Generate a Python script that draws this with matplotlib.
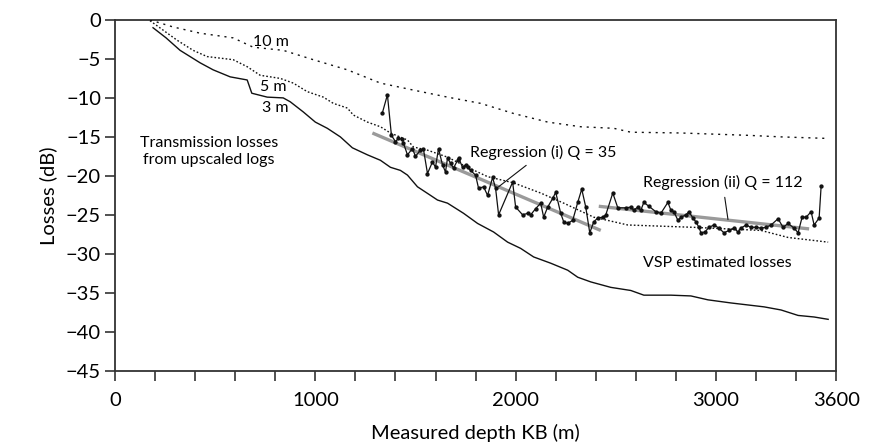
import numpy as np
import matplotlib.pyplot as plt

plt.rcParams['font.family'] = ['Lato', 'DejaVu Sans']

# transmission losses from upscaled logs (depth m, loss dB)
d3 = [190, 255, 325, 425, 490, 575, 660, 683, 760, 840, 875, 940, 1000, 1060, 1125, 1185,
      1260, 1325, 1375, 1425, 1460, 1510, 1575, 1610, 1660, 1740, 1810, 1890, 1960, 2025,
      2090, 2175, 2260, 2310, 2375, 2475, 2575, 2640, 2775, 2875, 2960, 3075, 3240, 3325,
      3410, 3490, 3560]
loss3 = [-1.0, -2.3, -3.9, -5.5, -6.4, -7.3, -7.7, -9.4, -9.9, -10.0, -10.5, -11.8, -13.1,
         -13.9, -15.0, -16.4, -17.3, -18.0, -18.9, -19.3, -19.9, -21.4, -22.5, -23.1, -23.5,
         -24.8, -26.1, -27.2, -28.5, -29.3, -30.4, -31.2, -32.1, -33.0, -33.6, -34.3, -34.7,
         -35.3, -35.3, -35.4, -35.9, -36.3, -36.8, -37.2, -37.9, -38.1, -38.4]

d5 = [175, 240, 310, 390, 460, 590, 660, 725, 825, 890, 960, 1040, 1090, 1160, 1190, 1260,
      1325, 1375, 1460, 1490, 1560, 1660, 1760, 1860, 1990, 2125, 2240, 2390, 2560, 2890,
      3225, 3360, 3560]
loss5 = [-0.1, -1.3, -2.6, -3.9, -4.7, -5.1, -6.0, -7.1, -7.5, -8.1, -9.2, -9.9, -10.7,
         -11.3, -12.2, -13.1, -13.7, -14.5, -15.4, -16.3, -16.7, -17.6, -18.9, -20.1, -20.9,
         -22.2, -23.5, -25.3, -26.3, -26.6, -27.0, -27.9, -28.5]

d10 = [175, 290, 425, 590, 690, 840, 990, 1160, 1325, 1490, 1660, 1825, 1990, 2160, 2325,
       2490, 2575, 2825, 3160, 3325, 3560]
loss10 = [0.0, -0.9, -1.7, -2.3, -3.5, -3.9, -5.1, -6.4, -8.1, -9.0, -9.9, -10.7, -12.0,
          -13.1, -13.7, -13.9, -14.4, -14.5, -14.8, -15.0, -15.2]

# VSP estimated losses
vsp_d = [1335, 1360, 1380, 1400, 1415, 1435, 1440, 1460, 1485, 1500, 1525, 1540, 1560, 1585,
         1600, 1615, 1635, 1650, 1660, 1675, 1690, 1710, 1715, 1735, 1750, 1760, 1775, 1800,
         1815, 1840, 1860, 1885, 1900, 1915, 1985, 2000, 2035, 2060, 2075, 2100, 2125, 2140,
         2160, 2185, 2200, 2225, 2240, 2260, 2285, 2310, 2330, 2350, 2370, 2390, 2410, 2435,
         2450, 2485, 2510, 2550, 2575, 2590, 2610, 2625, 2640, 2665, 2700, 2725, 2760, 2775,
         2790, 2810, 2825, 2850, 2865, 2885, 2900, 2915, 2925, 2945, 2965, 2990, 3015, 3040,
         3065, 3090, 3110, 3125, 3150, 3175, 3200, 3225, 3250, 3275, 3310, 3335, 3360, 3390,
         3410, 3430, 3450, 3475, 3490, 3515, 3525]
vsp_loss = [-11.9, -9.6, -14.8, -15.6, -15.2, -15.3, -15.8, -17.3, -16.5, -17.5, -16.7, -16.6,
            -19.7, -18.2, -18.9, -16.5, -18.6, -19.5, -17.7, -18.4, -19.0, -18.0, -17.7, -18.9,
            -18.6, -18.9, -19.3, -19.9, -21.6, -21.4, -22.5, -20.2, -21.6, -25.0, -20.8, -24.0,
            -25.0, -24.8, -25.0, -24.2, -23.5, -25.3, -24.0, -22.9, -22.1, -24.8, -25.9, -26.1,
            -25.7, -23.4, -21.7, -24.0, -27.3, -25.9, -25.4, -25.3, -25.0, -22.2, -24.1, -24.1,
            -24.0, -24.4, -24.0, -24.4, -23.4, -23.9, -24.6, -24.8, -23.4, -24.4, -24.6, -25.7,
            -25.3, -25.0, -24.6, -25.4, -25.9, -26.6, -27.3, -27.2, -26.6, -26.3, -26.7, -27.3,
            -27.0, -26.7, -27.2, -26.7, -26.3, -26.6, -26.6, -26.7, -26.6, -26.3, -25.5, -26.6,
            -26.1, -26.7, -27.3, -25.3, -25.3, -24.6, -26.3, -25.4, -21.3]

# regression lines (end points)
reg1_d = [1285, 2425]
reg1_loss = [-14.5, -27.0]
reg2_d = [2415, 3465]
reg2_loss = [-23.9, -26.8]

fig = plt.figure(figsize=(8.71, 4.43), dpi=100)
ax = fig.add_axes([0.132, 0.163, 0.828, 0.792])

ax.plot(reg1_d, reg1_loss, color='#9a9a9a', lw=2.4, solid_capstyle='butt', zorder=2)
ax.plot(reg2_d, reg2_loss, color='#9a9a9a', lw=2.4, solid_capstyle='butt', zorder=2)

ax.plot(d3, loss3, color='#111111', lw=1.0, zorder=3)
ax.plot(d5, loss5, color='#111111', lw=1.0, linestyle=(0, (1.2, 1.5)), zorder=3)
ax.plot(d10, loss10, color='#111111', lw=1.0, linestyle=(0, (1.5, 3.5)), zorder=3)
ax.plot(vsp_d, vsp_loss, color='#111111', lw=0.9, marker='o', ms=2.1, zorder=4)

tfont = 11.5
ax.text(690, -2.8, '10 m', fontsize=tfont, va='center', ha='left')
ax.text(790, -8.6, '5 m', fontsize=tfont, va='center', ha='center')
ax.text(800, -11.3, '3 m', fontsize=tfont, va='center', ha='center')
ax.text(470, -16.9, 'Transmission losses\nfrom upscaled logs', fontsize=tfont,
        va='center', ha='center', linespacing=1.25)
ax.text(3005, -31.2, 'VSP estimated losses', fontsize=tfont, va='center', ha='center')

ax.annotate('Regression (i) Q = 35', xy=(1915, -21.4), xytext=(1770, -17.0),
            fontsize=tfont, va='center', ha='left',
            arrowprops=dict(arrowstyle='-', color='#111111', lw=0.8,
                            shrinkA=3, shrinkB=0))
ax.annotate('Regression (ii) Q = 112', xy=(3060, -25.6), xytext=(2635, -20.9),
            fontsize=tfont, va='center', ha='left',
            arrowprops=dict(arrowstyle='-', color='#111111', lw=0.8,
                            shrinkA=3, shrinkB=0))

ax.set_xlim(0, 3600)
ax.set_ylim(-45, 0)
xt = np.arange(0, 3601, 200)
ax.set_xticks(xt)
ax.set_xticklabels([str(v) if v in (0, 1000, 2000, 3000, 3600) else '' for v in xt])
ax.set_yticks(np.arange(-45, 1, 5))
ax.tick_params(direction='out', length=7, width=1.2, color='#333333', labelsize=14.5)
ax.tick_params(axis='x', pad=8)
ax.tick_params(axis='y', pad=3)

for s in ax.spines.values():
    s.set_color('#333333')
    s.set_linewidth(1.3)

ax.set_xlabel('Measured depth KB (m)', fontsize=14.5, labelpad=11)
ax.set_ylabel('Losses (dB)', fontsize=14.5, labelpad=6)

fig.savefig('out.png', dpi=100)
